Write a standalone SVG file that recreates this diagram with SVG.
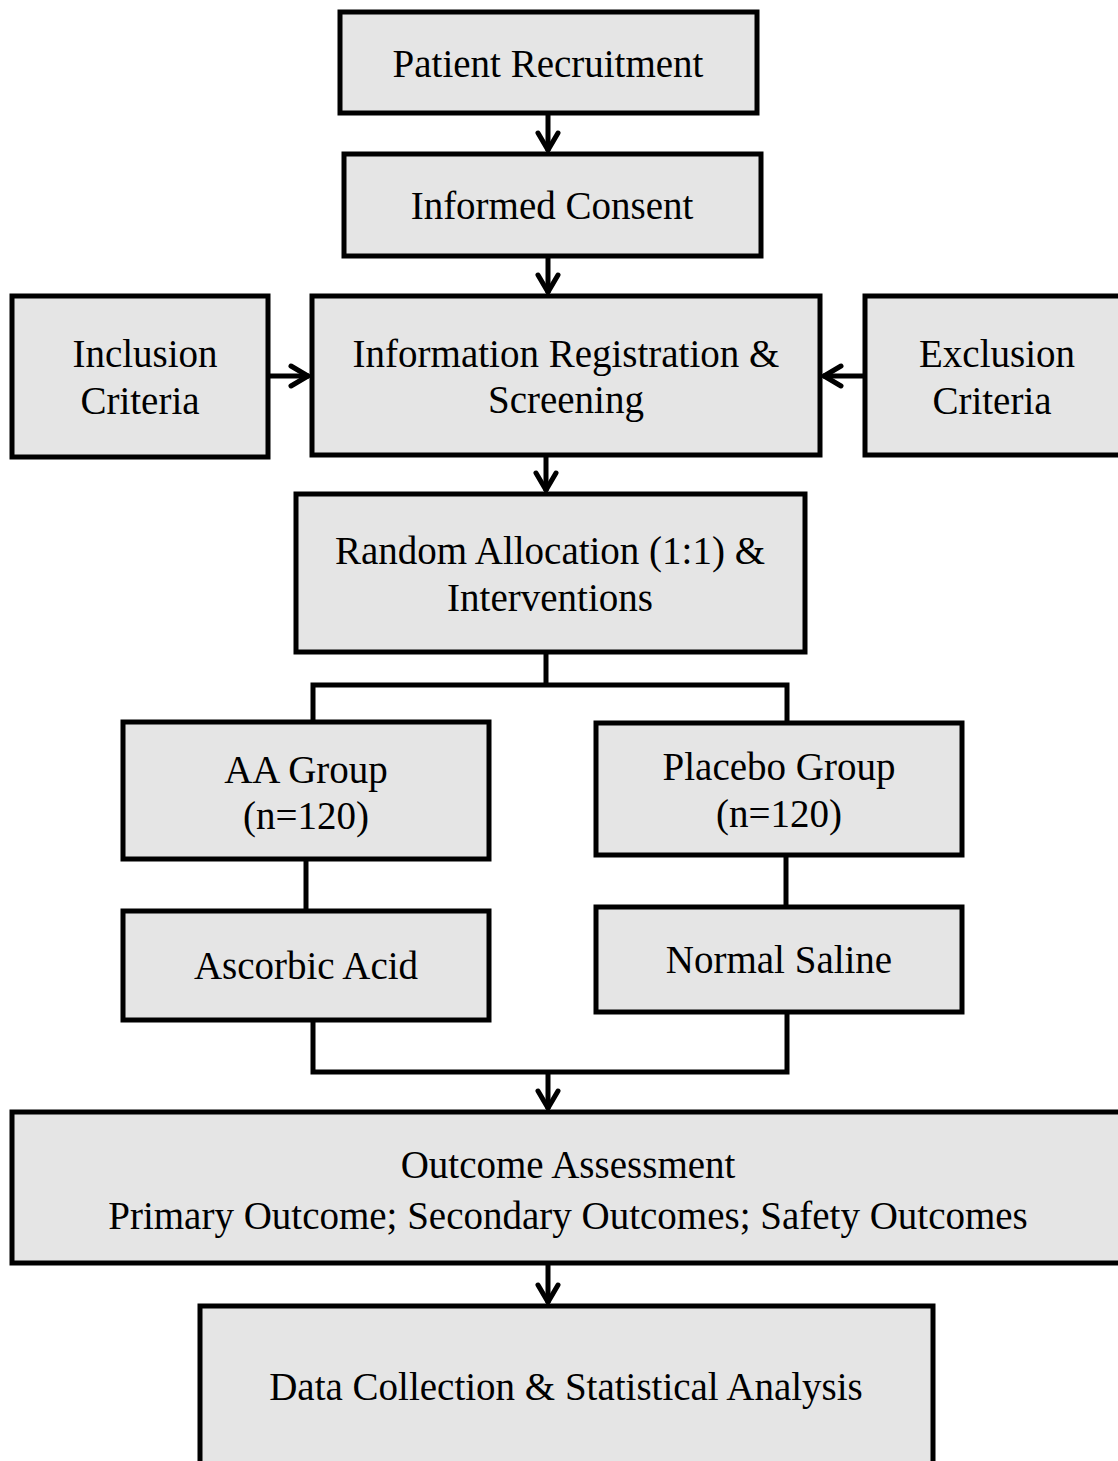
<svg xmlns="http://www.w3.org/2000/svg" width="1118" height="1461" viewBox="0 0 1118 1461">
<defs>
<style>
.box{fill:#e5e5e5;stroke:#000;stroke-width:5}
.t{font-family:"Liberation Serif","Times New Roman",serif;font-size:39px;fill:#000;text-anchor:middle}
.c{fill:none;stroke:#000;stroke-width:5}
.a{fill:none;stroke:#000;stroke-width:5;marker-end:url(#arr)}
</style>
<marker id="arr" markerUnits="userSpaceOnUse" markerWidth="40" markerHeight="40" refX="0" refY="0" orient="auto" overflow="visible">
<path d="M-18,-10 L-1,0 L-18,10" fill="none" stroke="#000" stroke-width="5" stroke-linecap="round" stroke-linejoin="miter"/>
</marker>
</defs>
<rect width="1118" height="1461" fill="#fff"/>
<g id="connectors">
<line class="a" x1="548" y1="113" x2="548" y2="151"/>
<line class="a" x1="548" y1="256" x2="548" y2="293"/>
<line class="a" x1="268" y1="376" x2="309" y2="376"/>
<line class="a" x1="865" y1="376" x2="823" y2="376"/>
<line class="a" x1="546" y1="455" x2="546" y2="491"/>
<polyline class="c" points="546,652 546,685"/>
<polyline class="c" points="313,722 313,685 787,685 787,723"/>
<line class="c" x1="306" y1="859" x2="306" y2="911"/>
<line class="c" x1="786" y1="855" x2="786" y2="907"/>
<polyline class="c" points="313,1020 313,1072 787,1072 787,1012"/>
<line class="a" x1="548" y1="1072" x2="548" y2="1109"/>
<line class="a" x1="548" y1="1263" x2="548" y2="1303"/>
</g>
<g id="patient-recruitment"><rect class="box" x="340" y="12" width="417" height="101"/><text class="t" x="548" y="77">Patient Recruitment</text></g>
<g id="informed-consent"><rect class="box" x="344" y="154" width="417" height="102"/><text class="t" x="552" y="219">Informed Consent</text></g>
<g id="inclusion"><rect class="box" x="12" y="296" width="256" height="161"/><text class="t" x="145" y="367">Inclusion</text><text class="t" x="140" y="414">Criteria</text></g>
<g id="registration"><rect class="box" x="312" y="296" width="508" height="159"/><text class="t" x="566" y="367">Information Registration &amp;</text><text class="t" x="566" y="413">Screening</text></g>
<g id="exclusion"><rect class="box" x="865" y="296" width="256" height="159"/><text class="t" x="997" y="367">Exclusion</text><text class="t" x="992" y="414">Criteria</text></g>
<g id="random"><rect class="box" x="296" y="494" width="509" height="158"/><text class="t" x="550" y="564">Random Allocation (1:1) &amp;</text><text class="t" x="550" y="611">Interventions</text></g>
<g id="aa-group"><rect class="box" x="123" y="722" width="366" height="137"/><text class="t" x="306" y="783">AA Group</text><text class="t" x="306" y="829">(n=120)</text></g>
<g id="placebo-group"><rect class="box" x="596" y="723" width="366" height="132"/><text class="t" x="779" y="780">Placebo Group</text><text class="t" x="779" y="827">(n=120)</text></g>
<g id="ascorbic"><rect class="box" x="123" y="911" width="366" height="109"/><text class="t" x="306" y="979">Ascorbic Acid</text></g>
<g id="saline"><rect class="box" x="596" y="907" width="366" height="105"/><text class="t" x="779" y="973">Normal Saline</text></g>
<g id="outcome"><rect class="box" x="12" y="1112" width="1115" height="151"/><text class="t" x="568" y="1178">Outcome Assessment</text><text class="t" x="568" y="1229">Primary Outcome; Secondary Outcomes; Safety Outcomes</text></g>
<g id="data"><rect class="box" x="200" y="1306" width="733" height="170"/><text class="t" x="566" y="1400">Data Collection &amp; Statistical Analysis</text></g>
</svg>
